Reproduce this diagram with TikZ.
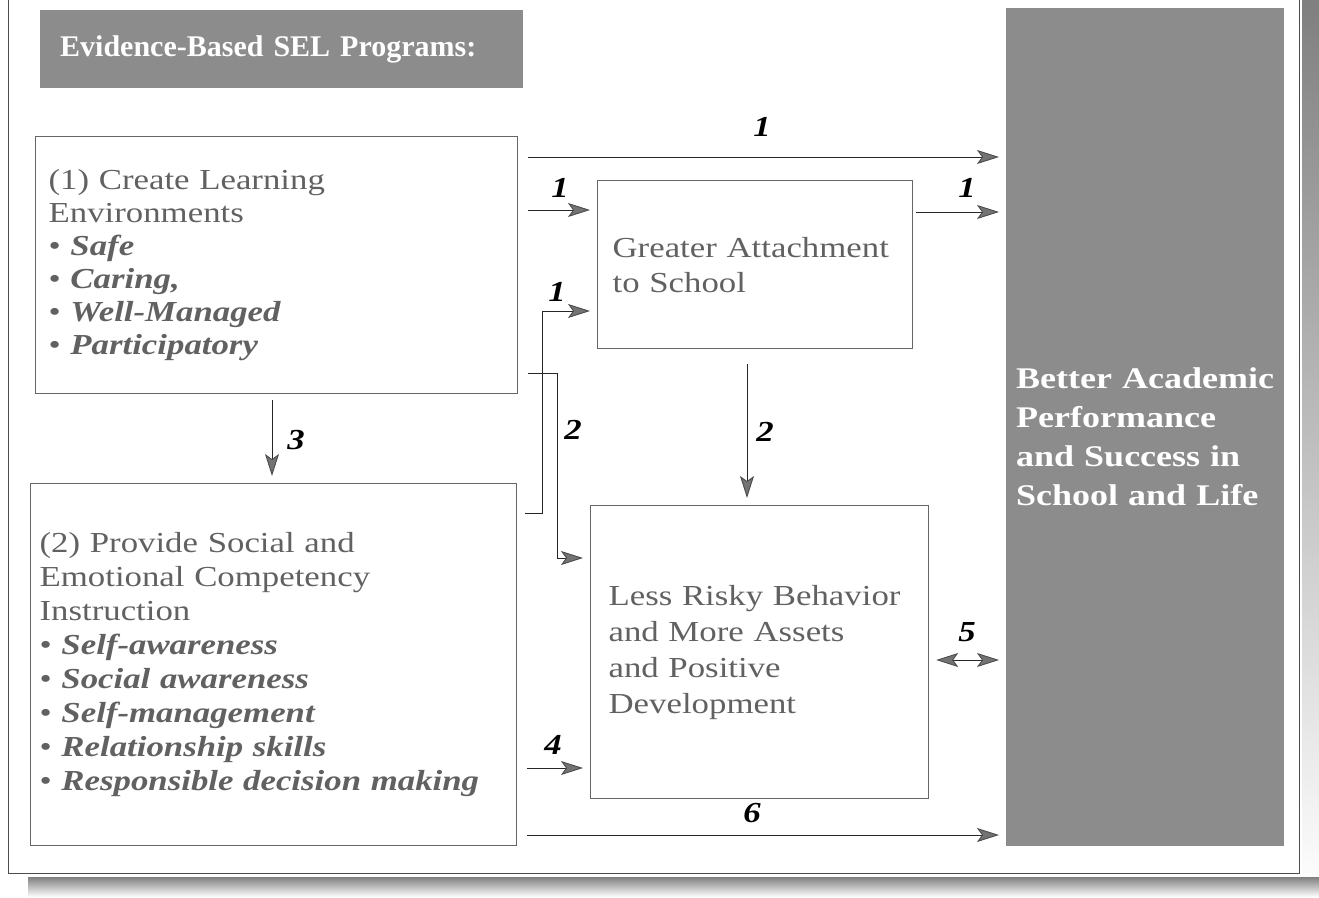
\documentclass[tikz,border=0pt]{standalone}
\usepackage{fontspec}
\setmainfont[FakeStretch=1.2]{Liberation Serif}
\newfontfamily\titlefont{Liberation Serif}
\usepackage{tikz}
\usetikzlibrary{arrows.meta}

\definecolor{shade}{gray}{0.55}
\definecolor{boxtext}{gray}{0.38}

\tikzset{
   box/.style={draw=black!60, line width=1.2pt, anchor=north west, align=left, text=boxtext},
   darkbox/.style={fill=shade, anchor=north west, align=left, text=white},
   tip/.tip={Stealth[length=22pt, width=14pt, inset=5pt, color=black!70, fill=black!55]},
   arr/.style={draw=black!85, line width=0.9pt, shorten <=10pt, shorten >=7pt, -tip},
   biarr/.style={arr, shorten <=7pt, tip-tip},
   num/.style={font=\bfseries\itshape\fontsize{29}{29}\selectfont, text=black},
}

\newcommand{\itm}[1]{\textbullet\ \textbf{\textit{#1}}}

\begin{document}
\begin{tikzpicture}[x=1pt, y=-1pt]
   \useasboundingbox (0,0) rectangle (1319,897);

   \fill[shade] (1302,0) rectangle (1319,897);
   \fill[shade] (28,877) rectangle (1319,897);
   \draw[black!70, line width=1pt] (8,-5) -- (8,873) -- (1299,873) -- (1299,-5);

   \node[darkbox, minimum width=483pt, minimum height=78pt, text width=443pt, inner xsep=20pt,
      font=\titlefont\bfseries\fontsize{30}{34}\selectfont] (title) at (40,10) {Evidence-Based SEL Programs:};

   \node[darkbox, minimum width=278pt, minimum height=838pt] (outcome) at (1006,8) {};
   \node[anchor=west, align=left, text=white, text width=266pt, inner xsep=10pt,
      font=\bfseries\fontsize{30}{39}\selectfont] (outcometext) at (1006,437)
      {\hyphenpenalty=10000 Better Academic\\Performance\\and Success in\\School and Life};

   \node[box, minimum width=482pt, minimum height=257pt, text width=456pt, inner xsep=13pt,
      font=\fontsize{29}{33}\selectfont] (env) at (35,136)
      {(1) Create Learning\\Environments\\\itm{Safe}\\\itm{Caring,}\\\itm{Well-Managed}\\\itm{Participatory}};

   \node[box, minimum width=486pt, minimum height=362pt, text width=468pt, inner xsep=9pt,
      font=\fontsize{29}{34}\selectfont] (sec) at (30,483)
      {(2) Provide Social and\\Emotional Competency\\Instruction\\\itm{Self-awareness}\\\itm{Social awareness}\\\itm{Self-management}\\\itm{Relationship skills}\\\itm{Responsible decision making}};

   \node[box, minimum width=315pt, minimum height=168pt, text width=285pt, inner xsep=15pt,
      font=\fontsize{29}{35}\selectfont] (attach) at (597,180)
      {Greater Attachment\\to School};

   \node[box, minimum width=338pt, minimum height=293pt, text width=302pt, inner xsep=18pt,
      font=\fontsize{29}{36}\selectfont] (risk) at (590,505)
      {Less Risky Behavior\\and More Assets\\and Positive\\Development};

   \draw[arr] (env.east |- 0,157) -- (outcome.west |- 0,157);
   \draw[arr] (env.east |- 0,210) -- (attach.west |- 0,210);
   \draw[arr, shorten <=3pt] (attach.east |- 0,212) -- (outcome.west |- 0,212);
   \draw[arr, shorten <=8pt] (sec.east |- 0,513) -| (542,311) -- (attach.west |- 0,311);
   \draw[arr] (env.east |- 0,373) -| (557,558) -- (risk.west |- 0,558);
   \draw[arr, shorten <=6pt] (env.south -| 272,0) -- (sec.north -| 272,0);
   \draw[arr, shorten <=15pt] (attach.south -| 747,0) -- (risk.north -| 747,0);
   \draw[biarr] (risk.east |- 0,660) -- (outcome.west |- 0,660);
   \draw[arr] (sec.east |- 0,768) -- (risk.west |- 0,768);
   \draw[arr] (sec.east |- 0,835) -- (outcome.west |- 0,835);

   \node[num] (l1a) at (762,127) {1};
   \node[num] (l1b) at (560,188) {1};
   \node[num] (l1c) at (967,188) {1};
   \node[num] (l1d) at (557,292) {1};
   \node[num] (l2a) at (573,430) {2};
   \node[num] (l3) at (296,440) {3};
   \node[num] (l2b) at (765,432) {2};
   \node[num] (l5) at (967,632) {5};
   \node[num] (l4) at (553,745) {4};
   \node[num] (l6) at (752,813) {6};
\end{tikzpicture}
\end{document}
